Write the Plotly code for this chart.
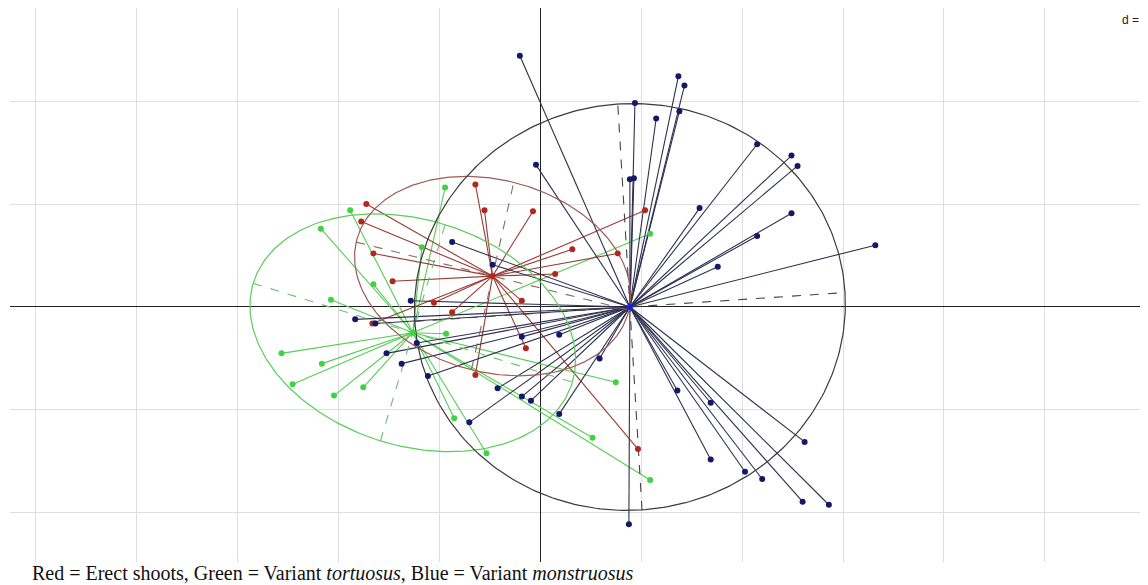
import numpy as np
import plotly.graph_objects as go

# ---- data (in axis units; d = 1 grid) ----
blue_x = [-0.20, 1.37, 1.43, 0.94, 1.15, 1.38, 2.15, 2.49, 2.55, -0.04, 0.89, 0.93, 1.58, 2.49, 2.15,
          1.76, 3.32, -0.87, -0.47, -1.28, -1.83, -1.63, -1.22, -1.52, -1.37, -1.11, -0.18, 0.19, 0.59,
          -0.42, -0.18, -0.09, 0.19, -0.70, 1.36, 1.69, 2.62, 1.69, 2.03, 2.20, 2.60, 2.86, 0.88]
blue_y = [2.44, 2.24, 2.15, 1.98, 1.83, 1.90, 1.58, 1.47, 1.37, 1.38, 1.24, 1.25, 0.96, 0.91, 0.69,
          0.39, 0.60, 0.63, 0.41, 0.06, -0.12, -0.16, -0.35, -0.45, -0.55, -0.67, -0.29, -0.27, -0.50,
          -0.79, -0.87, -0.91, -1.04, -1.12, -0.81, -0.93, -1.31, -1.48, -1.60, -1.67, -1.89, -1.92, -2.11]
red_x = [-0.64, -0.55, -0.07, -1.72, -1.77, -1.65, -1.46, 0.32, 0.77, 1.04, 0.15, -0.18, -1.05, -0.87,
         -1.66, -0.14, -0.64, 0.97]
red_y = [1.19, 0.94, 0.93, 1.00, 0.83, 0.52, 0.25, 0.56, 0.52, 0.94, 0.32, 0.06, 0.04, -0.05,
         -0.16, -0.40, -0.66, -1.38]
green_x = [-0.94, -1.88, -2.17, -1.17, -1.65, -2.07, -0.93, -2.56, -2.16, -2.45, -1.75, -2.04, -0.85,
           -0.53, 0.52, 0.75, 1.09, 1.09]
green_y = [1.16, 0.94, 0.76, 0.58, 0.22, 0.07, -0.26, -0.45, -0.55, -0.75, -0.78, -0.86, -1.08,
           -1.42, -1.27, -0.73, 0.71, -1.68]

# group centres and ellipse principal half-axes (axis units)
centres = {"blue": (0.89, 0.00), "red": (-0.47, 0.30), "green": (-1.26, -0.25)}
axis_a = {"blue": (2.13, 0.14), "red": (1.35, -0.33), "green": (1.58, -0.48)}
axis_b = {"blue": (-0.12, 1.97), "red": (0.21, 0.91), "green": (0.32, 1.05)}

point_col = {"red": "#b3261e", "green": "#3fd43f", "blue": "#15186a"}
line_col = {"red": "#9a3a34", "green": "#55cc55", "blue": "#2e3050"}
ell_col = {"red": "#a05a55", "green": "#5ccc5c", "blue": "#3a3a3a"}
dash_col = {"red": "#8a6a66", "green": "#6fbf6f", "blue": "#444444"}

groups = {"red": (red_x, red_y), "green": (green_x, green_y), "blue": (blue_x, blue_y)}

fig = go.Figure()

for g in ["green", "red", "blue"]:
    cx, cy = centres[g]
    xs, ys = groups[g]
    sx, sy = [], []
    for x, y in zip(xs, ys):
        sx += [cx, x, None]
        sy += [cy, y, None]
    fig.add_trace(go.Scatter(x=sx, y=sy, mode="lines", line=dict(color=line_col[g], width=1.1),
                             hoverinfo="skip", showlegend=False))

for g in ["green", "red", "blue"]:
    cx, cy = centres[g]
    ax, ay = axis_a[g]
    bx, by = axis_b[g]
    t = np.linspace(0, 2 * np.pi, 300)
    ex = cx + ax * np.cos(t) + bx * np.sin(t)
    ey = cy + ay * np.cos(t) + by * np.sin(t)
    fig.add_trace(go.Scatter(x=ex, y=ey, mode="lines", line=dict(color=ell_col[g], width=1.2),
                             hoverinfo="skip", showlegend=False))
    fig.add_trace(go.Scatter(x=[cx - ax, cx + ax, None, cx - bx, cx + bx],
                             y=[cy - ay, cy + ay, None, cy - by, cy + by],
                             mode="lines", line=dict(color=dash_col[g], width=1.1, dash="dash"),
                             hoverinfo="skip", showlegend=False))

for g in ["green", "red", "blue"]:
    xs, ys = groups[g]
    fig.add_trace(go.Scatter(x=xs, y=ys, mode="markers",
                             marker=dict(color=point_col[g], size=6), showlegend=False))
    cx, cy = centres[g]
    fig.add_trace(go.Scatter(x=[cx], y=[cy], mode="markers",
                             marker=dict(color=point_col[g] if g != "blue" else "#1a1aff", size=6),
                             showlegend=False))

fig.update_xaxes(range=[-5.248, 6.020], dtick=1, tick0=0, showgrid=True, gridcolor="#dedede",
                 gridwidth=1, zeroline=True, zerolinecolor="#222222", zerolinewidth=1,
                 showticklabels=False, ticks="", showline=False)
fig.update_yaxes(range=[-2.476, 2.903], dtick=1, tick0=0, showgrid=True, gridcolor="#dedede",
                 gridwidth=1, zeroline=True, zerolinecolor="#222222", zerolinewidth=1,
                 showticklabels=False, ticks="", showline=False)

fig.add_annotation(text="d = 1", xref="paper", yref="paper", x=0.9755, y=0.978,
                   xanchor="left", yanchor="middle", showarrow=False,
                   font=dict(family="Liberation Sans, Arial", size=12, color="#222"),
                   bgcolor="white")
fig.add_annotation(text="Red = Erect shoots, Green = Variant <i>tortuosus</i>, Blue = Variant <i>monstruosus</i>",
                   xref="paper", yref="paper", x=(22 - 2) / 1138, y=-0.0199,
                   xanchor="left", yanchor="middle", showarrow=False,
                   font=dict(family="Liberation Serif, Times New Roman, serif", size=20, color="#111"))

# page body has an 8px margin, so the figure is sized to fill the rest of the window
fig.update_layout(width=1140, height=577, margin=dict(l=2, r=0, t=0, b=23),
                  plot_bgcolor="white", paper_bgcolor="white")

fig.write_html("out.html")
